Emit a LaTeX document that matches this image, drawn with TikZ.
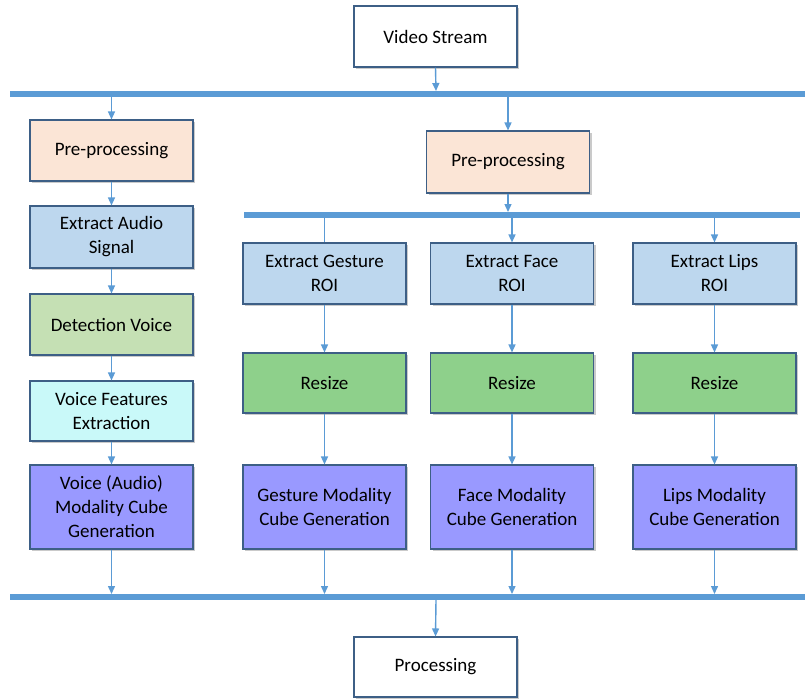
\documentclass[tikz,border=0pt]{standalone}
\usepackage{fontspec}
\setmainfont{Carlito}
\usetikzlibrary{shadows,arrows.meta}

\definecolor{edge}{HTML}{3D5F86}
\definecolor{busblue}{HTML}{5B9BD5}
\definecolor{prefill}{HTML}{FBE5D6}
\definecolor{roifill}{HTML}{BDD7EE}
\definecolor{detfill}{HTML}{C5E0B4}
\definecolor{featfill}{HTML}{C9F9F9}
\definecolor{resfill}{HTML}{8ED08B}
\definecolor{cubefill}{HTML}{9999FF}

\tikzset{
  box/.style={draw=edge, line width=1.1pt, rectangle, align=center,
    minimum width=163pt, inner sep=2pt,
    font=\fontsize{19}{24}\selectfont,
    drop shadow={shadow xshift=2pt, shadow yshift=-2pt, opacity=0.35, fill=black!60}},
  bus/.style={busblue, line width=6pt},
  flow/.style={busblue, line width=1.4pt, -{Triangle[length=8pt,width=7pt]}},
  plain/.style={busblue, line width=1.4pt},
}

\begin{document}
\begin{tikzpicture}[x=1pt,y=-1pt]
\useasboundingbox (0,0) rectangle (805,699);

% source and sink
\node[box, fill=white, minimum height=61pt] (vs) at (435.5,36.5) {Video Stream};
\node[box, fill=white, minimum height=60pt] (proc) at (435.5,667) {Processing};

% buses
\coordinate (busTL) at (10,94);
\coordinate (busTR) at (805,94);
\draw[bus] (busTL) -- (busTR);
\coordinate (busBL) at (10,597);
\coordinate (busBR) at (805,597);
\draw[bus] (busBL) -- (busBR);
\coordinate (busML) at (244,215);
\coordinate (busMR) at (800,215);
\draw[bus] (busML) -- (busMR);

% audio column
\node[box, fill=prefill,  minimum height=61pt] (pa)  at (111.5,150.5) {Pre-processing};
\node[box, fill=roifill,  minimum height=62pt] (ea)  at (111.5,237)   {Extract Audio\\Signal};
\node[box, fill=detfill,  minimum height=61pt] (dv)  at (111.5,324.5) {Detection Voice};
\node[box, fill=featfill, minimum height=60pt] (vf)  at (111.5,411)   {Voice Features\\Extraction};
\node[box, fill=cubefill, minimum height=84pt] (vc)  at (111.5,507)   {Voice (Audio)\\Modality Cube\\Generation};

% video pre-processing
\node[box, fill=prefill, minimum height=62pt] (pv) at (508,162) {Pre-processing};

% gesture column
\node[box, fill=roifill,  minimum height=61pt] (eg) at (324.5,273.5) {Extract Gesture\\ROI};
\node[box, fill=resfill,  minimum height=60pt] (rg) at (324.5,383)   {Resize};
\node[box, fill=cubefill, minimum height=84pt] (cg) at (324.5,507)   {Gesture Modality\\Cube Generation};

% face column
\node[box, fill=roifill,  minimum height=61pt] (ef) at (512,273.5) {Extract Face\\ROI};
\node[box, fill=resfill,  minimum height=60pt] (rf) at (512,383)   {Resize};
\node[box, fill=cubefill, minimum height=84pt] (cf) at (512,507)   {Face Modality\\Cube Generation};

% lips column
\node[box, fill=roifill,  minimum height=61pt] (el) at (714.5,273.5) {Extract Lips\\ROI};
\node[box, fill=resfill,  minimum height=60pt] (rl) at (714.5,383)   {Resize};
\node[box, fill=cubefill, minimum height=84pt] (cl) at (714.5,507)   {Lips Modality\\Cube Generation};

% taps on the buses
\coordinate (tVS)  at (436,91);
\coordinate (tPA)  at (111.5,97);
\coordinate (tPV)  at (508,97);
\coordinate (tMin) at (508,212);
\coordinate (tG)   at (324.5,218);
\coordinate (tF)   at (512,218);
\coordinate (tL)   at (714.5,218);
\coordinate (bVC)  at (111.5,594);
\coordinate (bG)   at (324.5,594);
\coordinate (bF)   at (512,594);
\coordinate (bL)   at (714.5,594);
\coordinate (bOut) at (436,600);

% connectors
\draw[flow] (vs.south) -- (tVS);
\draw[flow] (tPA) -- (pa.north);
\draw[flow] (tPV) -- (pv.north);
\draw[flow] (pa) -- (ea);
\draw[flow] (ea) -- (dv);
\draw[flow] (dv) -- (vf);
\draw[flow] (vf) -- (vc);
\draw[flow] (vc.south) -- (bVC);
\draw[flow] (pv.south) -- (tMin);
\draw[plain] (tG) -- (eg.north);
\draw[flow] (tF) -- (ef.north);
\draw[flow] (tL) -- (el.north);
\draw[flow] (eg) -- (rg);
\draw[flow] (rg) -- (cg);
\draw[flow] (ef) -- (rf);
\draw[flow] (rf) -- (cf);
\draw[flow] (el) -- (rl);
\draw[flow] (rl) -- (cl);
\draw[flow] (cg.south) -- (bG);
\draw[flow] (cf.south) -- (bF);
\draw[flow] (cl.south) -- (bL);
\draw[flow] (bOut) -- (proc.north);
\end{tikzpicture}
\end{document}
